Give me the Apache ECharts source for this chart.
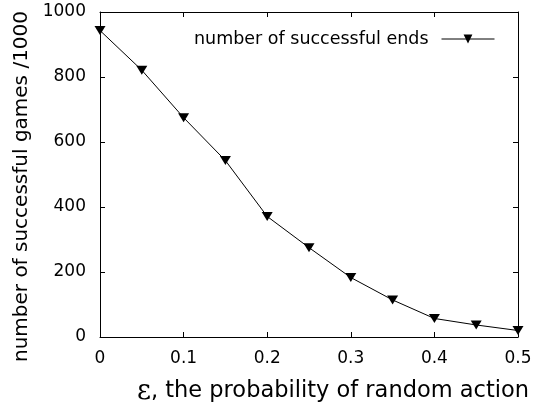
<!DOCTYPE html>
<html>
<head>
<meta charset="utf-8">
<script src="https://cdn.jsdelivr.net/npm/echarts@6/dist/echarts.min.js"></script>
<style>html,body{margin:0;padding:0;background:#fff}#c{width:534px;height:402px}</style>
</head>
<body>
<div id="c"></div>
<script>
const epsilon = [0, 0.05, 0.1, 0.15, 0.2, 0.25, 0.3, 0.35, 0.4, 0.45, 0.5];
const successfulEnds = [943, 821, 675, 543, 371, 275, 183, 114, 57, 37, 20];
const xTicks = [0, 0.1, 0.2, 0.3, 0.4, 0.5];
const yTicks = [0, 200, 400, 600, 800, 1000];
const seriesName = 'number of successful ends';
const xTitleRest = ', the probability of random action';
const yTitle = 'number of successful games /1000';

const FONT = 'DejaVu Sans';
const chart = echarts.init(document.getElementById('c'), null, {renderer: 'canvas'});
const axisCommon = () => ({
  axisLine: {show: true, onZero: false, lineStyle: {color: '#000', width: 1}},
  axisTick: {show: true, inside: true, length: 5, lineStyle: {color: '#000'}},
  splitLine: {show: false}
});
chart.setOption({
  animation: false,
  backgroundColor: '#fff',
  grid: {left: 100, right: 16, top: 12, bottom: 65, containLabel: false, outerBoundsMode: 'none'},
  legend: {
    right: 34, top: 25,
    itemWidth: 53, itemHeight: 11,
    align: 'right',
    lineStyle: {width: 1, color: '#000'},
    textStyle: {fontFamily: FONT, fontSize: 17.5, color: '#000', padding: [0, 8, 0, 0]},
    data: [seriesName]
  },
  xAxis: [
    Object.assign(axisCommon(), {
      type: 'value', min: 0, max: 0.5, interval: 0.1, position: 'bottom',
      name: '{eps|ε}' + xTitleRest, nameLocation: 'middle', nameGap: 41,
      nameTextStyle: {fontFamily: FONT, fontSize: 22.5, color: '#000', padding: [0, 0, 0, 48],
        rich: {eps: {fontFamily: 'DejaVu Serif', fontSize: 27, color: '#000'}}},
      axisLabel: {fontFamily: FONT, fontSize: 17, color: '#000', margin: 13,
        formatter: v => xTicks.indexOf(Math.round(v*10)/10) >= 0 ? String(Math.round(v*10)/10) : ''}
    }),
    Object.assign(axisCommon(), {
      type: 'value', min: 0, max: 0.5, interval: 0.1, position: 'top',
      axisLabel: {show: false}
    })
  ],
  yAxis: [
    Object.assign(axisCommon(), {
      type: 'value', min: 0, max: 1000, interval: 200, position: 'left',
      name: yTitle, nameLocation: 'middle', nameGap: 68,
      nameTextStyle: {fontFamily: FONT, fontSize: 20, color: '#000', padding: [0, 24, 0, 0]},
      axisLabel: {fontFamily: FONT, fontSize: 17, color: '#000', margin: 14,
        formatter: v => yTicks.indexOf(v) >= 0 ? String(v) : ''}
    }),
    Object.assign(axisCommon(), {
      type: 'value', min: 0, max: 1000, interval: 200, position: 'right',
      axisLabel: {show: false}
    })
  ],
  series: [{
    name: seriesName,
    type: 'line',
    data: epsilon.map((e, i) => [e, successfulEnds[i]]),
    symbol: 'triangle',
    symbolRotate: 180,
    symbolSize: [11, 9],
    lineStyle: {color: '#000', width: 1},
    itemStyle: {color: '#000'},
    clip: false
  }]
});
</script>
</body>
</html>
